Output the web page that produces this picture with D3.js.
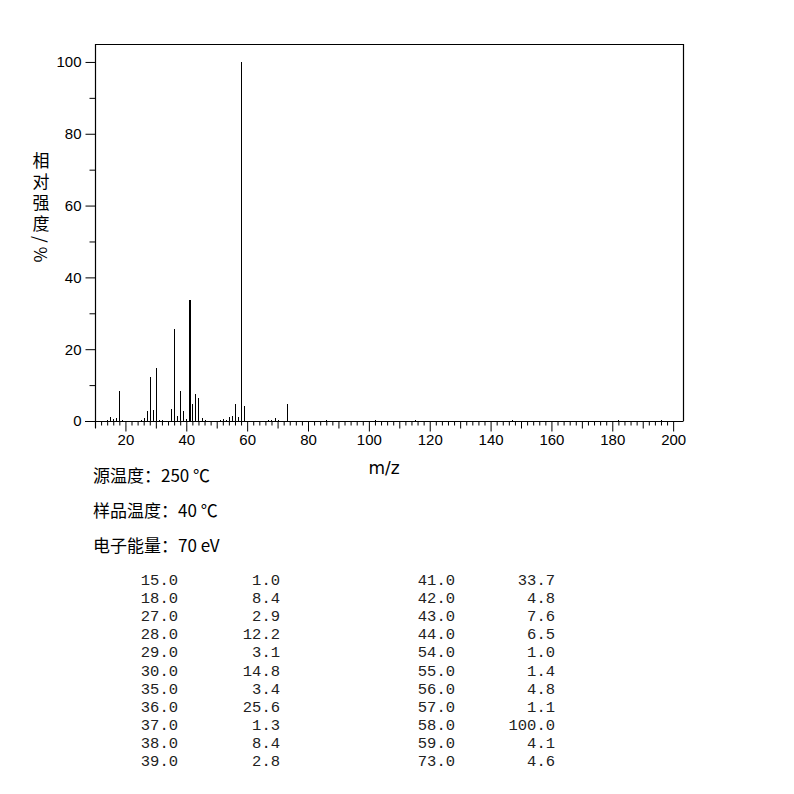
<!DOCTYPE html>
<html>
<head>
<meta charset="utf-8">
<script src="https://cdn.jsdelivr.net/npm/d3@7"></script>
<style>
  body { margin: 0; background: #fff; }
  svg { display: block; }
</style>
</head>
<body>
<div class="graphics"></div>
<script>
// peaks (m/z, relative intensity %)
const peakMz = [14, 15, 16, 17, 18, 19, 25, 26, 27, 28, 29, 30, 31, 32, 35, 36, 37, 38, 39, 40,
  41, 42, 43, 44, 45, 46, 51, 52, 53, 54, 55, 56, 57, 58, 59, 67, 68, 69, 70, 73,
  86, 102, 115, 147, 182, 196];
const peakIntensity = [0.3, 1.0, 0.5, 0.8, 8.4, 0.3, 0.4, 0.8, 2.9, 12.2, 3.1, 14.8, 0.4, 0.3, 3.4, 25.6, 1.3, 8.4, 2.8, 0.6,
  33.7, 4.8, 7.6, 6.5, 0.7, 0.3, 0.3, 0.5, 0.3, 1.0, 1.4, 4.8, 1.1, 100.0, 4.1, 0.3, 0.4, 0.7, 0.3, 4.6,
  0.2, 0.3, 0.3, 0.2, 0.4, 0.3];

const xTickLabels = [20, 40, 60, 80, 100, 120, 140, 160, 180, 200];
const yTickLabels = [0, 20, 40, 60, 80, 100];

const conditions = ["源温度：250 ℃", "样品温度：40 ℃", "电子能量：70 eV"];

const width = 794;
const height = 794;
const plot = { left: 95, right: 683.5, top: 44, bottom: 421 };

const svg = d3.select('.graphics')
  .append('svg')
  .attr('width', width)
  .attr('height', height)
  .attr('viewBox', [0, 0, width, height]);

const x = d3.scaleLinear().domain([10, 203.4]).range([plot.left, plot.right]);
const y = d3.scaleLinear().domain([0, 105]).range([plot.bottom, plot.top]);

const ink = '#000';

// frame: top, left and right sides
svg.append('path')
  .attr('d', `M${plot.left + 0.5},428 V${plot.top + 0.5} H${plot.right} V${plot.bottom}`)
  .attr('fill', 'none')
  .attr('stroke', ink)
  .attr('stroke-width', 1.2);

// x axis
const xAxis = d3.axisBottom(x)
  .tickValues(d3.range(10, 201, 2))
  .tickSize(4)
  .tickFormat(d => xTickLabels.includes(d) ? d : '');

const gx = svg.append('g')
  .attr('transform', `translate(0,${plot.bottom + 0.5})`)
  .call(xAxis);
gx.select('.domain').attr('d', `M85,0 H${plot.right}`).attr('stroke', ink).attr('stroke-width', 1.2);
gx.selectAll('.tick line')
  .attr('stroke', ink)
  .attr('y2', d => d % 20 === 0 ? 10 : d % 10 === 0 ? 7 : 4);
gx.selectAll('.tick text')
  .attr('y', 13)
  .attr('font-family', 'Liberation Sans, Arial, sans-serif')
  .attr('font-size', 15)
  .attr('fill', ink);

// y axis
const yAxis = d3.axisLeft(y)
  .tickValues(d3.range(0, 101, 10))
  .tickSize(6)
  .tickFormat(d => yTickLabels.includes(d) ? d : '');

const gy = svg.append('g')
  .attr('transform', `translate(${plot.left + 0.5},0)`)
  .call(yAxis);
gy.select('.domain').remove();
gy.selectAll('.tick line')
  .attr('stroke', ink)
  .attr('x2', d => d % 20 === 0 ? -10 : -6);
gy.selectAll('.tick text')
  .attr('x', -14)
  .attr('font-family', 'Liberation Sans, Arial, sans-serif')
  .attr('font-size', 15)
  .attr('fill', ink);

// peaks
svg.append('g')
  .attr('stroke', ink)
  .attr('shape-rendering', 'crispEdges')
  .selectAll('line')
  .data(peakMz.map((m, i) => ({ m, v: peakIntensity[i] })))
  .join('line')
  .attr('x1', d => Math.round(x(d.m)) + 0.5)
  .attr('x2', d => Math.round(x(d.m)) + 0.5)
  .attr('y1', y(0))
  .attr('y2', d => y(d.v))
  .attr('stroke-width', d => d.v > 30 && d.v < 50 ? 2 : 1);

// axis titles
svg.append('text')
  .attr('x', 384)
  .attr('y', 474)
  .attr('text-anchor', 'middle')
  .attr('font-family', 'DejaVu Sans, sans-serif')
  .attr('font-size', 17)
  .attr('fill', ink)
  .text('m/z');

svg.append('text')
  .attr('x', 41)
  .attr('y', 152)
  .style('writing-mode', 'vertical-rl')
  .attr('font-family', 'Noto Sans CJK SC, sans-serif')
  .attr('font-size', 17)
  .attr('letter-spacing', 4)
  .attr('fill', ink)
  .text('相对强度/%');

// instrument conditions
svg.append('g')
  .selectAll('text')
  .data(conditions)
  .join('text')
  .attr('x', 93)
  .attr('y', (d, i) => 482 + i * 35)
  .attr('font-family', 'Noto Sans CJK SC, sans-serif')
  .attr('font-size', 17)
  .attr('fill', ink)
  .text(d => d);

// peak table, two columns
const listed = peakMz.map((m, i) => ({ m, v: peakIntensity[i] })).filter(d => d.v >= 1.0);
const half = Math.ceil(listed.length / 2);
const columnEdges = [[178, 280], [455, 555]];

const table = svg.append('g')
  .attr('font-family', 'Liberation Mono, Courier New, monospace')
  .attr('font-size', 15.5)
  .attr('fill', '#222')
  .attr('text-anchor', 'end');

[listed.slice(0, half), listed.slice(half)].forEach((rows, c) => {
  const g = table.append('g');
  g.selectAll('text.mz')
    .data(rows)
    .join('text')
    .attr('class', 'mz')
    .attr('x', columnEdges[c][0])
    .attr('y', (d, i) => 585 + i * 18.1)
    .text(d => d.m.toFixed(1));
  g.selectAll('text.iv')
    .data(rows)
    .join('text')
    .attr('class', 'iv')
    .attr('x', columnEdges[c][1])
    .attr('y', (d, i) => 585 + i * 18.1)
    .text(d => d.v.toFixed(1));
});
</script>
</body>
</html>
